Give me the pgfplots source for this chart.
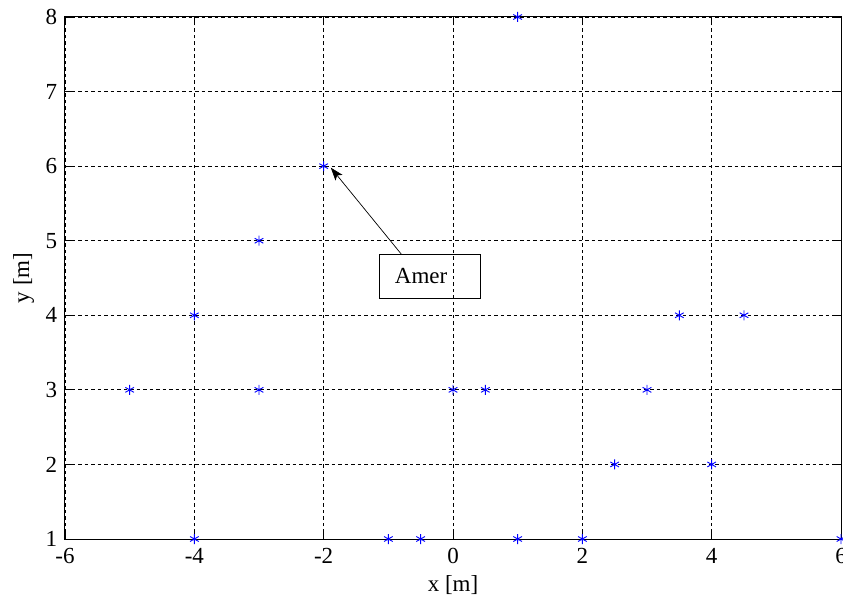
\documentclass[border=0pt]{standalone}
\usepackage{fontspec}
\setmainfont{Liberation Serif}
\usepackage{pgfplots}
\pgfplotsset{compat=1.18}
\usetikzlibrary{arrows.meta}
\begin{document}
\fontsize{23pt}{26pt}\selectfont
\begin{tikzpicture}[x=1pt,y=1pt]
\useasboundingbox (0,0) rectangle (843,598);
\begin{axis}[
  at={(65pt,59pt)}, anchor=south west,
  scale only axis, width=776pt, height=522pt,
  xmin=-6, xmax=6, ymin=1, ymax=8,
  xtick={-6,-4,...,6}, ytick={1,...,8},
  /pgf/number format/assume math mode=true,
  tick label style={font=\fontsize{23pt}{26pt}\selectfont},
  label style={font=\fontsize{23pt}{26pt}\selectfont},
  xticklabel style={yshift=-1pt},
  yticklabel style={xshift=0pt},
  xlabel={x [m]}, ylabel={y [m]},
  xlabel style={yshift=3pt},
  ylabel style={yshift=-4pt},
  grid=major,
  major grid style={black, dash pattern=on 3.5pt off 3pt, line width=0.8pt},
  tick style={black, line width=0.9pt},
  major tick length=7pt,
  tick align=inside,
  axis line style={black, line width=1pt},
  axis on top,
  clip=false,
]
\addplot[only marks, mark=asterisk, mark size=5pt, color=blue, mark options={line width=0.9pt}]
  coordinates {
  (1,8) (-2,6) (-3,5) (-4,4) (3.5,4) (4.5,4)
  (-5,3) (-3,3) (0,3) (0.5,3) (3,3)
  (2.5,2) (4,2)
  (-4,1) (-1,1) (-0.5,1) (1,1) (2,1) (6,1)
  };
\draw[line width=0.7pt, -{Stealth[length=13pt,width=9pt,inset=3pt]}] (axis cs:-0.79,4.81) -- (axis cs:-1.89,5.98);
\draw[line width=1pt, fill=white] (axis cs:-1.14,4.22) rectangle (axis cs:0.42,4.81);
\node[anchor=west, font=\fontsize{23pt}{26pt}\selectfont] at (axis cs:-1.02,4.53) {Amer};
\end{axis}
\end{tikzpicture}
\end{document}
